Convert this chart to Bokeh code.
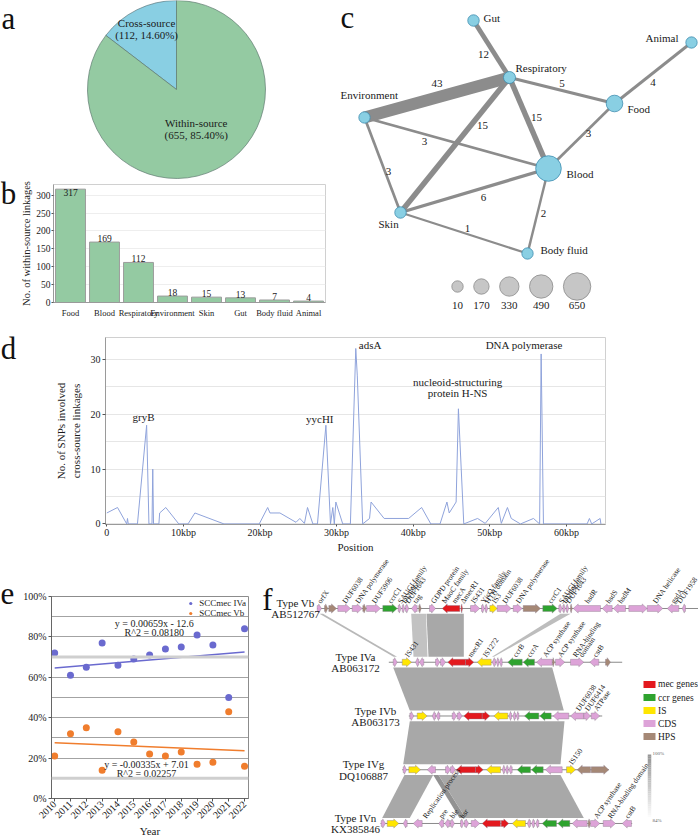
import numpy as np
from bokeh.plotting import figure
from bokeh.layouts import column, row
from bokeh.models import (Range1d, FactorRange, FixedTicker, Legend, LegendItem,
                          NumeralTickFormatter, Span, ColumnDataSource)
from bokeh.core.properties import value
from bokeh.embed import file_html
from bokeh.resources import INLINE

FONT = "Liberation Serif"
INK = "#1a1a1a"
GREEN = "#94CAA2"
SKY = "#89CFE3"

# ---------------- data ----------------
# a: share of linkages
link_types = ["Within-source", "Cross-source"]
link_counts = [655, 112]

# b: within-source linkages by source
sources = ["Food", "Blood", "Respiratory", "Environment", "Skin", "Gut", "Body fluid", "Animal"]
within_counts = [317, 169, 112, 18, 15, 13, 7, 4]

# c: cross-source linkage network
node_names = ["Gut", "Animal", "Respiratory", "Environment", "Food", "Blood", "Skin", "Body fluid"]
node_sizes = [12, 8, 34, 8, 218, 578, 12, 8]
edge_src = ["Gut", "Environment", "Respiratory", "Animal", "Respiratory", "Respiratory",
            "Environment", "Environment", "Food", "Skin", "Blood", "Skin"]
edge_dst = ["Respiratory", "Respiratory", "Food", "Food", "Blood", "Skin",
            "Blood", "Skin", "Blood", "Blood", "Body fluid", "Body fluid"]
edge_weight = [12, 43, 5, 4, 15, 15, 3, 3, 3, 6, 2, 1]
size_legend_values = [10, 170, 330, 490, 650]

# d: SNPs along the SCCmec-carrying region
snp_pos_kbp = [0.0, 1.4, 2.6, 2.7, 2.8, 4.0, 5.2, 5.5, 5.9, 6.0, 6.1, 6.8, 6.9, 7.7, 9.4,
               10.6, 11.5, 15.3, 19.9, 21.0, 21.3, 22.6, 24.7, 25.2, 25.8, 26.2, 26.9, 27.5,
               28.6, 29.2, 29.5, 29.7, 29.9, 30.8, 31.8, 32.5, 32.7, 33.4, 34.3, 34.5, 36.2,
               39.4, 41.1, 42.3, 43.5, 44.4, 44.7, 45.6, 45.9, 46.6, 48.4, 49.4, 51.1, 51.5,
               52.3, 52.8, 54.0, 55.7, 56.5, 56.7, 57.0, 62.7, 63.0, 63.3, 64.4, 64.5]
snp_count = [2, 3, 0, 1, 0, 0, 18, 0, 0, 10, 0, 0, 2, 3, 0,
             0, 2, 0, 0, 3, 2, 2, 0.3, 1, 0.1, 3, 0, 0,
             18, 0, 3, 0, 4, 0, 0, 32, 27, 0, 1, 4, 1,
             1, 3, 0, 0, 4, 2, 4, 21, 0, 1, 0.1, 3, 0.1,
             3, 1, 0, 1, 0, 31, 0, 0, 1, 0, 1, 0]
pos_ticks_kbp = [0, 10, 20, 30, 40, 50, 60]
peak_names = ["gryB", "yycHI", "adsA", "nucleoid-structuring", "protein H-NS", "DNA polymerase"]
peak_label_x = [4.8, 27.8, 32.9, 45.8, 45.8, 54.5]
peak_label_y = [19.5, 19.1, 32.7, 25.8, 23.8, 32.7]
peak_label_align = ["center", "center", "left", "center", "center", "center"]

# e: yearly share of SCCmec types
years = list(range(2010, 2023))
iva_share = [0.72, 0.61, 0.65, 0.77, 0.66, 0.69, 0.71, 0.74, 0.75, 0.81, 0.76, 0.50, 0.84]
vb_share = [0.21, 0.32, 0.35, 0.14, 0.33, 0.28, 0.22, 0.21, 0.23, 0.17, 0.18, 0.43, 0.16]
iva_fit = (0.00659, -12.6, 0.08180)
vb_fit = (-0.00335, 7.01, 0.02257)

# f: SCCmec element maps (kb on a shared alignment axis; strand +1/-1)
track_names = ["Type Vb", "Type IVa", "Type IVb", "Type IVg", "Type IVn"]
track_acc = ["AB512767", "AB063172", "AB063173", "DQ106887", "KX385846"]
track_span = [(6.67, 44.8), (13.83, 37.17), (15.83, 35.17), (15.17, 35.83), (13.0, 38.17)]
genes_vb = [(6.67, 7.10, 1, "CDS"), (7.40, 7.73, 1, "HPS"), (7.83, 8.60, 1, "HPS"),
            (8.73, 10.0, 1, "CDS"), (10.17, 11.17, 1, "CDS"), (11.23, 11.57, 1, "HPS"),
            (11.6, 13.0, 1, "CDS"), (13.23, 14.67, 1, "ccr"), (14.77, 15.07, 1, "CDS"),
            (15.17, 15.43, 1, "CDS"), (15.5, 15.83, 1, "CDS"), (16.1, 16.67, -1, "CDS"),
            (16.83, 17.07, 1, "HPS"), (17.9, 18.5, 1, "CDS"), (19.17, 20.93, -1, "mec"),
            (21.07, 21.2, 1, "mec"), (22.0, 22.93, 1, "CDS"), (23.1, 23.4, 1, "CDS"),
            (23.47, 23.73, 1, "CDS"), (23.93, 24.67, 1, "IS"), (24.67, 26.07, 1, "CDS"),
            (26.27, 27.17, 1, "CDS"), (27.27, 29.0, 1, "HPS"), (29.23, 30.67, 1, "ccr"),
            (30.83, 31.17, 1, "CDS"), (31.23, 31.5, 1, "CDS"), (31.57, 31.83, 1, "CDS"),
            (32.0, 32.17, 1, "HPS"), (32.27, 35.0, -1, "CDS"), (35.17, 36.17, -1, "CDS"),
            (36.27, 37.5, -1, "CDS"), (37.83, 39.67, 1, "CDS"), (39.67, 41.23, 1, "CDS"),
            (41.67, 42.83, -1, "CDS"), (43.17, 43.5, -1, "CDS")]
genes_iva = [(14.27, 14.67, 1, "CDS"), (15.17, 16.1, 1, "IS"), (16.5, 16.83, -1, "CDS"),
             (16.9, 17.33, -1, "CDS"), (18.5, 18.93, 1, "CDS"), (19.0, 19.5, 1, "CDS"),
             (19.73, 21.5, -1, "mec"), (21.5, 22.33, 1, "mec"), (22.67, 24.07, -1, "IS"),
             (24.17, 24.5, -1, "CDS"), (24.57, 24.83, -1, "CDS"), (24.9, 25.17, -1, "CDS"),
             (25.73, 27.17, -1, "ccr"), (27.27, 28.4, -1, "ccr"), (28.6, 30.17, -1, "CDS"),
             (30.2, 30.4, 1, "HPS"), (30.5, 31.43, 1, "CDS"), (32.0, 33.33, 1, "CDS"),
             (33.93, 34.83, -1, "CDS"), (35.5, 36.0, 1, "HPS")]
genes_ivb = [(15.93, 16.33, 1, "CDS"), (16.67, 17.67, 1, "IS"), (18.17, 18.5, -1, "CDS"),
             (18.57, 18.93, -1, "CDS"), (20.17, 20.6, 1, "CDS"), (20.67, 21.17, 1, "CDS"),
             (21.33, 23.17, -1, "mec"), (23.17, 23.93, 1, "mec"), (24.33, 25.73, -1, "IS"),
             (25.83, 26.1, -1, "CDS"), (26.23, 26.5, -1, "CDS"), (26.57, 26.83, -1, "CDS"),
             (27.4, 28.83, -1, "ccr"), (28.93, 30.07, -1, "ccr"), (30.27, 31.83, -1, "CDS"),
             (32.0, 33.33, -1, "CDS"), (33.33, 34.0, 1, "CDS"), (34.07, 34.93, 1, "CDS")]
genes_ivg = [(15.27, 15.6, 1, "CDS"), (15.83, 17.0, 1, "IS"), (17.67, 18.5, -1, "CDS"),
             (19.5, 20.0, 1, "CDS"), (20.0, 20.5, 1, "CDS"), (20.6, 22.5, -1, "mec"),
             (22.5, 23.27, 1, "mec"), (23.6, 25.0, -1, "IS"), (25.17, 25.43, -1, "CDS"),
             (25.5, 25.77, -1, "CDS"), (25.83, 26.17, -1, "CDS"), (26.67, 28.0, -1, "ccr"),
             (28.1, 29.27, -1, "ccr"), (29.5, 31.17, -1, "CDS"), (31.6, 32.5, 1, "IS"),
             (32.67, 34.0, -1, "HPS"), (34.07, 35.83, 1, "HPS")]
genes_ivn = [(13.07, 13.5, 1, "CDS"), (13.67, 14.83, 1, "IS"), (15.27, 15.67, -1, "CDS"),
             (16.27, 17.17, -1, "CDS"), (18.83, 19.33, -1, "CDS"), (19.43, 19.93, -1, "CDS"),
             (20.0, 20.4, 1, "CDS"), (21.0, 21.33, 1, "CDS"), (21.4, 21.83, 1, "CDS"),
             (22.07, 22.93, 1, "CDS"), (23.17, 25.0, -1, "mec"), (25.07, 25.83, 1, "mec"),
             (26.17, 27.5, -1, "IS"), (27.67, 28.0, -1, "CDS"), (28.1, 28.4, -1, "CDS"),
             (28.5, 28.83, -1, "CDS"), (29.17, 30.6, -1, "ccr"), (30.73, 31.93, -1, "ccr"),
             (32.17, 33.67, -1, "CDS"), (33.77, 34.0, 1, "HPS"), (34.0, 34.93, 1, "CDS"),
             (35.27, 36.5, 1, "CDS"), (37.17, 38.1, -1, "CDS")]
track_genes = [genes_vb, genes_iva, genes_ivb, genes_ivg, genes_ivn]
labels_vb = [(6.85, "orfX"), (9.35, "DUF6038"), (10.65, "DNA polymerase"), (12.3, "DUF5906"),
             (13.9, "ccrC1"), (14.9, "SAUGI family"), (15.3, "DUF960"), (15.65, "DUF1643"),
             (16.4, "tag"), (18.2, "GDPD protein"), (19.3, "MaoC family"), (20.3, "mecA"),
             (21.15, "ΔmecR1"), (22.2, "IS431"), (23.2, "YjcQ family"), (23.6, "HTH domain"),
             (24.3, "IS3"), (25.35, "DUF6038"), (26.7, "DNA polymerase"), (29.9, "ccrC1"),
             (31.0, "SAUGI family"), (31.35, "DUF960"), (31.7, "DUF1643"), (33.6, "hsdR"),
             (35.7, "hsdS"), (36.9, "hsdM"), (40.4, "DNA helicase"), (42.2, "gsdA"),
             (42.8, "DUF1958")]
labels_iva = [(15.6, "IS431"), (21.9, "mecR1"), (23.4, "IS1272"), (26.4, "ccrB"), (27.8, "ccrA"),
              (29.4, "ACP synthase"), (30.9, "ACP synthase"), (32.4, "RNA-binding"),
              (33.0, "domain"), (34.4, "cstB")]
labels_ivb = [(32.7, "DUF6038"), (33.6, "DUF6414"), (34.5, "ATPase")]
labels_ivg = [(32.0, "IS150")]
labels_ivn = [(17.4, "Replication process"), (19.0, "pre"), (20.1, "ble"), (21.1, "hsr"),
              (34.5, "ACP synthase"), (35.9, "RNA-binding domain"), (37.6, "cstB")]
track_labels = [labels_vb, labels_iva, labels_ivb, labels_ivg, labels_ivn]
gene_classes = ["mec", "ccr", "IS", "CDS", "HPS"]
gene_class_names = ["mec genes", "ccr genes", "IS", "CDS", "HPS"]
gene_class_colors = ["#E3191E", "#2EA32E", "#FFE600", "#DDA3D8", "#A58876"]
# homology blocks between neighbouring maps: (upper row, top x0, top x1, bottom x0, bottom x1, shade)
blocks = [(0, 6.9, 7.25, 14.3, 14.65, "#b8b8b8"), (0, 16.07, 17.55, 16.3, 17.7, "#c2c2c2"),
          (0, 17.6, 21.33, 17.8, 21.33, "#a8a8a8"), (0, 31.0, 32.0, 24.15, 24.35, "#bdbdbd"),
          (1, 14.27, 30.17, 15.93, 31.33, "#a8a8a8"), (2, 15.93, 31.4, 15.27, 31.0, "#a8a8a8"),
          (3, 15.4, 18.27, 13.17, 15.93, "#a8a8a8"), (3, 18.27, 18.8, 20.9, 21.5, "#929292"),
          (3, 18.8, 31.0, 21.5, 33.33, "#a8a8a8")]


def new_fig(**kw):
    return figure(toolbar_location=None, output_backend="svg", **kw)


def blank_fig(w, h, x0, x1, y0, y1):
    p = new_fig(width=w, height=h, x_range=Range1d(x0, x1), y_range=Range1d(y0, y1),
                x_axis_location=None, y_axis_location=None, min_border=0)
    p.grid.visible = False
    p.outline_line_color = None
    return p


def style_axes(p, size="10px"):
    for ax in p.axis:
        ax.major_label_text_font = FONT
        ax.major_label_text_font_size = size
        ax.major_label_text_color = INK
        ax.axis_label_text_font = FONT
        ax.axis_label_text_font_size = "11px"
        ax.axis_label_text_font_style = "normal"
        ax.axis_label_text_color = INK
        ax.minor_tick_line_color = None
        ax.major_tick_in = 0
        ax.major_tick_out = 3
        ax.axis_line_color = "#9a9a9a"
        ax.major_tick_line_color = "#555555"


def letters(p, xs, ys, ts):
    p.text(x=xs, y=ys, text=ts, text_font=value(FONT), text_font_size="31px",
           text_align="center", text_baseline="middle", text_color="#111111")


def boxed(p):
    # keep each plot in its own box so neighbouring frames are not aligned
    return column(p)


# ---------------- panel letters a / b ----------------
strip_ab = blank_fig(18, 320, 0, 18, 0, 320)
letters(strip_ab, [8, 8], [320 - 18, 320 - 193], ["a", "b"])

# ---------------- a: pie ----------------
pa = blank_fig(317, 180, 18, 335, 0, 180)
total = sum(link_counts)
cx, cy, rad = 176, 91, 89
a_start = np.pi / 2
a_cross = a_start + 2 * np.pi * link_counts[1] / total
pa.wedge(x=[cx], y=[cy], radius=rad, start_angle=a_start, end_angle=a_cross,
         fill_color=SKY, line_color="#5e7a80", line_width=0.7)
pa.wedge(x=[cx], y=[cy], radius=rad, start_angle=a_cross, end_angle=a_start + 2 * np.pi,
         fill_color=GREEN, line_color="#5e7a70", line_width=0.7)
mid_cross = (a_start + a_cross) / 2
mid_within = mid_cross + np.pi
lab_x, lab_y, lab_t = [], [], []
for name, n, ang, rf in [(link_types[1], link_counts[1], mid_cross, 0.76),
                         (link_types[0], link_counts[0], mid_within, 0.5)]:
    px_, py_ = cx + rf * rad * np.cos(ang), cy + rf * rad * np.sin(ang)
    lab_x += [px_, px_]
    lab_y += [py_ + 6, py_ - 6]
    lab_t += [name, f"({n}, {100 * n / total:.2f}%)"]
pa.text(x=lab_x, y=lab_y, text=lab_t, text_font=value(FONT), text_font_size="11px",
        text_align="center", text_baseline="middle", text_color=INK)

# ---------------- b: bars ----------------
b_top = 330
pb = new_fig(width=317, height=140, x_range=FactorRange(factors=sources), y_range=Range1d(0, b_top),
             min_border_left=30, min_border_right=10, min_border_top=4, min_border_bottom=15)
pb.vbar(x=sources, top=within_counts, width=0.88, fill_color=GREEN, line_color="#9c9c9c", line_width=1)
pb.xgrid.visible = False
pb.ygrid.grid_line_color = "#eeeeee"
pb.yaxis.ticker = FixedTicker(ticks=list(range(0, 301, 50)))
pb.yaxis.axis_label = "No. of within-source linkages"
pb.outline_line_color = "#d0d0d0"
style_axes(pb, "9.5px")
pb.xaxis.major_label_text_font_size = "8.5px"
pb.yaxis.axis_label_text_font_size = "10.5px"
pb.xaxis.major_tick_line_color = None
pb.xaxis.major_label_standoff = 2
pb.yaxis.major_label_standoff = 1
pb.yaxis.major_tick_out = 2
pb.yaxis.axis_label_standoff = 1
inside = [v > 0.9 * b_top for v in within_counts]
for flag, base in [(False, "bottom"), (True, "top")]:
    pb.text(x=[s for s, i in zip(sources, inside) if i == flag],
            y=[v for v, i in zip(within_counts, inside) if i == flag],
            text=[str(v) for v, i in zip(within_counts, inside) if i == flag], text_font=value(FONT),
            text_font_size="9.5px", text_align="center", text_baseline=base, text_color=INK)

# ---------------- c: network ----------------
pc = blank_fig(363, 320, 0, 363, 0, 320)
node_xy = {"Gut": (138, 300), "Animal": (356, 278), "Respiratory": (174, 243),
           "Environment": (29, 203), "Food": (279, 217), "Blood": (213, 152),
           "Skin": (65, 108), "Body fluid": (192, 67)}
node_label_off = {"Gut": (10, 3, "left"), "Animal": (-13, 5, "right"), "Respiratory": (6, 10, "left"),
                  "Environment": (-24, 23, "left"), "Food": (13, -5, "left"), "Blood": (18, -5, "left"),
                  "Skin": (-22, -11, "left"), "Body fluid": (13, 4, "left")}
edge_label_off = [(-8, -5.5), (0, 14), (0, 7), (0, -9), (7.5, 5.5), (27.5, 19.5),
                  (-32, 1.5), (6, -6.5), (7, 2.5), (9, -7), (5.5, -2.5), (3.5, 4.5)]


def node_radius(v):
    return 5.575 + 0.0125 * v


xs = [[node_xy[s][0], node_xy[t][0]] for s, t in zip(edge_src, edge_dst)]
ys = [[node_xy[s][1], node_xy[t][1]] for s, t in zip(edge_src, edge_dst)]
widths = [2.0 + 0.23 * w for w in edge_weight]
pc.multi_line(xs="xs", ys="ys", line_width="w", line_color="#8c8c8c",
              source=ColumnDataSource(dict(xs=xs, ys=ys, w=widths)))
ex = [(a[0] + a[1]) / 2 + o[0] for a, o in zip(xs, edge_label_off)]
ey = [(a[0] + a[1]) / 2 + o[1] for a, o in zip(ys, edge_label_off)]
pc.text(x=ex, y=ey, text=[str(w) for w in edge_weight], text_font=value(FONT), text_font_size="11px",
        text_align="center", text_baseline="middle", text_color=INK)
pc.scatter(x=[node_xy[n][0] for n in node_names], y=[node_xy[n][1] for n in node_names],
           size=[2 * node_radius(v) for v in node_sizes], fill_color=SKY, line_color="#3f8db0",
           line_width=0.8)
for al in ["left", "right"]:
    sel = [n for n in node_names if node_label_off[n][2] == al]
    pc.text(x=[node_xy[n][0] + node_label_off[n][0] for n in sel],
            y=[node_xy[n][1] + node_label_off[n][1] for n in sel], text=sel,
            text_font=value(FONT), text_font_size="11px", text_align=al, text_baseline="middle",
            text_color=INK)
lx = [122.0]
for i in range(1, len(size_legend_values)):
    lx.append(lx[-1] + node_radius(size_legend_values[i - 1]) + node_radius(size_legend_values[i]) + 10.5)
pc.scatter(x=lx, y=[34] * len(lx), size=[2 * node_radius(v) for v in size_legend_values],
           fill_color="#c6c6c6", line_color="#8a8a8a", line_width=0.8)
pc.text(x=lx, y=[15] * len(lx), text=[str(v) for v in size_legend_values], text_font=value(FONT),
        text_font_size="11px", text_align="center", text_baseline="middle", text_color=INK)
letters(pc, [12], [303], ["c"])

# ---------------- d: SNP profile ----------------
strip_d = blank_fig(40, 235, 0, 40, 0, 235)
letters(strip_d, [8], [235 - 28], ["d"])
pdd = new_fig(width=658, height=235, x_range=Range1d(-170, 65100), y_range=Range1d(-0.1, 34.0),
              min_border_left=65, min_border_right=93, min_border_top=17, min_border_bottom=31)
pdd.line(x=[k * 1000 for k in snp_pos_kbp], y=snp_count, line_color="#8fa3db", line_width=1)
pdd.xgrid.visible = False
pdd.ygrid.ticker = FixedTicker(ticks=list(range(0, 31, 5)))
pdd.ygrid.grid_line_color = "#e6e6e6"
pdd.yaxis.ticker = FixedTicker(ticks=[0, 10, 20, 30])
pdd.xaxis.ticker = FixedTicker(ticks=[k * 1000 for k in pos_ticks_kbp])
pdd.xaxis.major_label_overrides = {k * 1000: ("0" if k == 0 else f"{k}kbp") for k in pos_ticks_kbp}
pdd.xaxis.axis_label = "Position"
pdd.yaxis.axis_label = "No. of SNPs involved\ncross-source linkages"
pdd.outline_line_color = "#d0d0d0"
style_axes(pdd, "10px")
pdd.xaxis.major_tick_out = 2
pdd.xaxis.major_label_standoff = 0
pdd.xaxis.axis_label_standoff = 0
pdd.yaxis.major_label_standoff = 2
pdd.yaxis.axis_label_standoff = 6
for al in ["left", "center"]:
    idx = [i for i, a in enumerate(peak_label_align) if a == al]
    pdd.text(x=[peak_label_x[i] * 1000 for i in idx], y=[peak_label_y[i] for i in idx],
             text=[peak_names[i] for i in idx], text_font=value(FONT), text_font_size="11px",
             text_align=al, text_baseline="middle", text_color=INK)

# ---------------- e: SCCmec trends ----------------
strip_e = blank_fig(20, 284, 0, 20, 0, 284)
letters(strip_e, [7], [284 - 38], ["e"])
pe = new_fig(width=230, height=284, x_range=Range1d(2009.8, 2022.25), y_range=Range1d(0, 1),
             min_border_left=28, min_border_right=2, min_border_top=41, min_border_bottom=34)
pe.xgrid.visible = False
pe.ygrid.ticker = FixedTicker(ticks=[0.1, 0.2, 0.3, 0.4, 0.5, 0.6, 0.8, 0.9])
pe.ygrid.grid_line_color = "#8c8c8c"
pe.ygrid.grid_line_width = 0.8
for lvl in [0.7, 0.1]:
    pe.add_layout(Span(location=lvl, dimension="width", line_color="#cfcfcf", line_width=3))
BLUE = "#6A6ACF"
ORANGE = "#F07D2D"
fx = np.array([years[0], years[-1]], dtype=float)
pe.line(fx, iva_fit[0] * fx + iva_fit[1], line_color=BLUE, line_width=1.5)
pe.line(fx, vb_fit[0] * fx + vb_fit[1], line_color=ORANGE, line_width=1.5)
r_iva = pe.scatter(years, iva_share, size=7, fill_color=BLUE, line_color=None)
r_vb = pe.scatter(years, vb_share, size=7, fill_color=ORANGE, line_color=None)
leg = Legend(items=[LegendItem(label="SCCmec IVa", renderers=[r_iva]),
                    LegendItem(label="SCCmec Vb", renderers=[r_vb])],
             location="top_right", label_text_font=FONT, label_text_font_size="9px",
             label_text_color=INK, glyph_width=8, glyph_height=8, label_height=8, spacing=0,
             padding=1, margin=2, border_line_color=None, background_fill_alpha=0)
pe.add_layout(leg)
eq_t = [f"y = {iva_fit[0]:.5f}x - {abs(iva_fit[1]):.1f}", f"R^2 = {iva_fit[2]:.5f}",
        f"y = {vb_fit[0]:.5f}x + {vb_fit[1]:.2f}", f"R^2 = {vb_fit[2]:.5f}"]
pe.text(x=[2016.3, 2016.3, 2015.8, 2015.8], y=[0.865, 0.823, 0.167, 0.124], text=eq_t,
        text_font=value(FONT), text_font_size="10px", text_align="center", text_baseline="middle",
        text_color=INK)
pe.xaxis.ticker = FixedTicker(ticks=years)
pe.xaxis.major_label_orientation = np.pi / 4
pe.yaxis.ticker = FixedTicker(ticks=[0, 0.2, 0.4, 0.6, 0.8, 1.0])
pe.yaxis.formatter = NumeralTickFormatter(format="0%")
pe.xaxis.axis_label = "Year"
pe.outline_line_color = "#8c8c8c"
style_axes(pe, "10px")
pe.axis.axis_line_color = "#666666"
pe.xaxis.major_label_standoff = 1
pe.xaxis.axis_label_standoff = 0
pe.yaxis.major_label_standoff = 2

# ---------------- f: SCCmec maps ----------------
pf = blank_fig(448, 284, 0, 44.8, -4.298, 0.986)
TH = 0.1  # half height of a map strip
bx, by, bc = [], [], []
for r_, t0, t1, b0, b1, shade in blocks:
    yt, yb = -r_ - TH, -(r_ + 1) + TH
    bx.append([t0, t1, b1, b0])
    by.append([yt, yt, yb, yb])
    bc.append(shade)
pf.patches(xs=bx, ys=by, fill_color=bc, line_color=None)


def arrow(s, e, strand, yc):
    head = min(0.5, (e - s) * 0.65)
    bh, hh = 0.055, 0.085
    if strand > 0:
        xs_ = [s, e - head, e - head, e, e - head, e - head, s]
    else:
        xs_ = [e, s + head, s + head, s, s + head, s + head, e]
    return xs_, [yc + bh, yc + bh, yc + hh, yc, yc - hh, yc - bh, yc - bh]


color_of = dict(zip(gene_classes, gene_class_colors))
gx, gy, gc = [], [], []
for i, genes in enumerate(track_genes):
    for s, e, strand, cls in genes:
        ax_, ay_ = arrow(s, e, strand, -i)
        gx.append(ax_)
        gy.append(ay_)
        gc.append(color_of[cls])
pf.multi_line(xs=[[a, b] for a, b in track_span], ys=[[-i, -i] for i in range(len(track_span))],
              line_color="#8a8a8a", line_width=1)
pf.patches(xs=gx, ys=gy, fill_color=gc, line_color="#8c7b8a", line_width=0.4)
lx_, ly_, lt_ = [], [], []
for i, labs in enumerate(track_labels):
    for x_, t in labs:
        lx_.append(x_)
        ly_.append(-i + 0.11)
        lt_.append(t)
pf.text(x=lx_, y=ly_, text=lt_, angle=55, angle_units="deg", text_font=value(FONT),
        text_font_size="7.5px", text_align="left", text_baseline="middle", text_color=INK)
name_x = [4.5, 10.5, 12.5, 11.3, 10.5]
pf.text(x=name_x + name_x, y=[-i + 0.1 for i in range(5)] + [-i - 0.11 for i in range(5)],
        text=track_names + track_acc, text_font=value(FONT), text_font_size="11px",
        text_align="center", text_baseline="middle", text_color=INK)
leg_y = [-1.414 - 0.242 * k for k in range(len(gene_classes))]
pf.rect(x=[39.9] * len(leg_y), y=leg_y, width=1.2, height=0.13, fill_color=gene_class_colors,
        line_color=None)
pf.text(x=[40.75] * len(leg_y), y=leg_y, text=gene_class_names, text_font=value(FONT),
        text_font_size="9.5px", text_align="left", text_baseline="middle", text_color=INK)
n_steps = 30
g_top, g_bot = -2.716, -3.926
g_h = (g_top - g_bot) / n_steps
g_col = []
for k in range(n_steps):
    f = k / (n_steps - 1)
    v = int(150 + (255 - 150) * f)
    g_col.append(f"#{v:02x}{v:02x}{v:02x}")
pf.rect(x=[39.9] * n_steps, y=[g_top - g_h * (k + 0.5) for k in range(n_steps)], width=0.35,
        height=g_h * 1.05, fill_color=g_col, line_color=None)
pf.text(x=[40.2, 40.2], y=[g_top + 0.02, g_bot - 0.02], text=["100%", "84%"], text_font=value(FONT),
        text_font_size="5px", text_align="left", text_baseline="middle", text_color="#666666")
letters(pf, [1.7], [0.16], ["f"])

top = row(boxed(strip_ab), column(boxed(pa), boxed(pb)), boxed(pc))
middle = row(boxed(strip_d), boxed(pdd))
bottom = row(boxed(strip_e), boxed(pe), boxed(pf))
layout = column(top, middle, bottom)
open("out.html", "w").write(file_html(layout, INLINE))
